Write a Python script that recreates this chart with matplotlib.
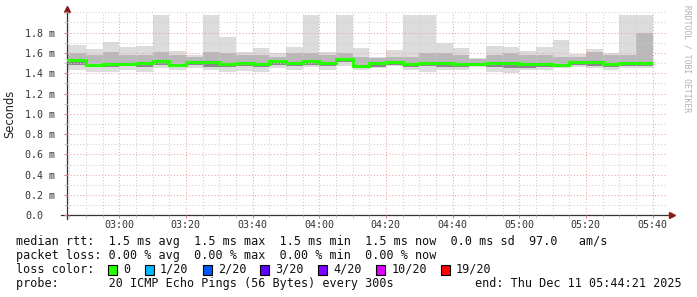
import numpy as np
import matplotlib
matplotlib.use("Agg")
import matplotlib.pyplot as plt
import matplotlib.dates as mdates
from matplotlib.patches import Rectangle
from matplotlib.ticker import MultipleLocator, FixedLocator
from datetime import datetime, timedelta

# smokeping data: one slot per 5 minutes, 02:40 .. 05:40 (values in ms)
slot_start = datetime(2025, 12, 11, 2, 40)
view_start = datetime(2025, 12, 11, 2, 44, 21)
view_end = datetime(2025, 12, 11, 5, 44, 21)

rtt_max = [1.678, 1.678, 1.635, 1.707, 1.658, 1.668, 1.970, 1.619, 1.582, 1.970,
           1.760, 1.606, 1.651, 1.599, 1.661, 1.970, 1.609, 1.970, 1.648, 1.563,
           1.628, 1.970, 1.970, 1.702, 1.651, 1.547, 1.668, 1.661, 1.619, 1.661,
           1.727, 1.589, 1.638, 1.599, 1.970, 1.970]
rtt_hi = [1.596, 1.596, 1.579, 1.606, 1.579, 1.579, 1.612, 1.579, 1.563, 1.609,
          1.602, 1.579, 1.579, 1.560, 1.596, 1.602, 1.579, 1.596, 1.560, 1.547,
          1.563, 1.563, 1.596, 1.596, 1.579, 1.540, 1.579, 1.596, 1.579, 1.579,
          1.563, 1.560, 1.609, 1.579, 1.579, 1.792]
rtt_med = [1.530, 1.530, 1.485, 1.487, 1.494, 1.503, 1.523, 1.478, 1.510, 1.507,
           1.494, 1.505, 1.494, 1.520, 1.502, 1.520, 1.503, 1.540, 1.474, 1.496,
           1.510, 1.491, 1.502, 1.498, 1.491, 1.491, 1.505, 1.500, 1.491, 1.491,
           1.478, 1.507, 1.507, 1.491, 1.500, 1.500]
rtt_lo = [1.481, 1.481, 1.464, 1.464, 1.471, 1.464, 1.481, 1.464, 1.481, 1.464,
          1.464, 1.471, 1.464, 1.484, 1.471, 1.484, 1.471, 1.510, 1.454, 1.464,
          1.484, 1.464, 1.471, 1.464, 1.464, 1.474, 1.464, 1.451, 1.454, 1.464,
          1.466, 1.484, 1.474, 1.464, 1.471, 1.474]
rtt_min = [1.431, 1.431, 1.409, 1.415, 1.431, 1.415, 1.448, 1.431, 1.454, 1.431,
           1.415, 1.422, 1.415, 1.448, 1.431, 1.464, 1.431, 1.471, 1.431, 1.451,
           1.471, 1.431, 1.415, 1.431, 1.431, 1.466, 1.415, 1.402, 1.431, 1.431,
           1.448, 1.464, 1.448, 1.431, 1.448, 1.448]

y_ticks = [0.0, 0.2, 0.4, 0.6, 0.8, 1.0, 1.2, 1.4, 1.6, 1.8]
y_labels = ["0.0"] + ["%.1f m" % v for v in y_ticks[1:]]

legend_rows = [
    "median rtt:  1.5 ms avg  1.5 ms max  1.5 ms min  1.5 ms now  0.0 ms sd  97.0   am/s",
    "packet loss: 0.00 % avg  0.00 % max  0.00 % min  0.00 % now",
    "loss color:",
    "probe:       20 ICMP Echo Pings (56 Bytes) every 300s",
]
loss_labels = ["0", "1/20", "2/20", "3/20", "4/20", "10/20", "19/20"]
loss_colors = ["#26ff00", "#00b8ff", "#0059ff", "#5e00ff", "#7e00ff", "#dd00ff", "#ff0000"]
end_label = "end: Thu Dec 11 05:44:21 2025"

W, H = 697, 297
MONO = "DejaVu Sans Mono"


def fx(x):
    return x / W


def fy(y):
    return 1 - y / H


fig = plt.figure(figsize=(W / 100, H / 100), dpi=100, facecolor="white")
ax = fig.add_axes([fx(67), fy(215.3), 600 / W, 203 / H])
ax.set_facecolor("white")

edges = mdates.date2num([slot_start + timedelta(minutes=5 * i) for i in range(len(rtt_med) + 1)])

ax.stairs(rtt_max, edges, baseline=rtt_min, fill=True, color="#dcdcdc", lw=0, zorder=1)
ax.stairs(rtt_hi, edges, baseline=rtt_lo, fill=True, color="#b9b9b9", lw=0, zorder=1.1)
ax.stairs(rtt_med, edges, baseline=rtt_lo, fill=True, color="#8a8a8a", lw=0, zorder=1.2)
ax.stairs(rtt_med, edges, baseline=None, color="#26ff00", lw=2.2, zorder=3)

ax.set_xlim(mdates.date2num(view_start), mdates.date2num(view_end))
ax.set_ylim(0, 2.0)

ax.xaxis.set_major_locator(mdates.MinuteLocator(byminute=[0, 20, 40]))
ax.xaxis.set_minor_locator(mdates.MinuteLocator(byminute=range(0, 60, 5)))
ax.xaxis.set_major_formatter(mdates.DateFormatter("%H:%M"))
ax.yaxis.set_major_locator(FixedLocator(y_ticks))
ax.yaxis.set_minor_locator(MultipleLocator(0.1))
ax.set_yticklabels(y_labels)

dots = (0, (1, 2))
ax.grid(which="minor", color="#cfcfcf", lw=0.75, linestyle=dots)
ax.grid(which="major", color="#eda5a5", lw=0.75, linestyle=dots)
ax.set_axisbelow(False)

ax.tick_params(axis="both", which="both", labelsize=7.2, colors="#333333")
ax.tick_params(axis="y", which="major", length=2, color="#e08080", pad=28)
ax.tick_params(axis="y", which="minor", length=2, color="#bbbbbb")
ax.tick_params(axis="x", which="major", length=2, color="#e08080", pad=1.5)
ax.tick_params(axis="x", which="minor", length=2, color="#bbbbbb")
for lab in ax.get_yticklabels():
    lab.set_horizontalalignment("left")
    lab.set_family(MONO)
for lab in ax.get_xticklabels():
    lab.set_family(MONO)

for s in ax.spines.values():
    s.set_visible(False)
# axis lines with arrows, as rrdtool draws them
ax.plot([0, 0], [-0.02, 1.01], transform=ax.transAxes, color="#333333", lw=0.9, clip_on=False)
ax.plot([-0.01, 1.006], [0, 0], transform=ax.transAxes, color="#333333", lw=0.9, clip_on=False)
ax.plot([0], [1.014], transform=ax.transAxes, marker="^", ms=4.5, color="#8b1a1a", clip_on=False)
ax.plot([1.008], [0], transform=ax.transAxes, marker=">", ms=4.5, color="#8b1a1a", clip_on=False)

fig.text(fx(10), fy(113.5), "Seconds", rotation=90, ha="center", va="center",
         fontsize=8.3, family="DejaVu Sans", color="#222222")
fig.text(fx(687), fy(5), "RRDTOOL / TOBI OETIKER", rotation=270, ha="center", va="top",
         fontsize=5.8, family=MONO, color="#b0b0b0")

row_y = [241.5, 255.5, 269.5, 283.5]
for text, y in zip(legend_rows, row_y):
    fig.text(fx(16), fy(y), text, ha="left", va="center", fontsize=8.5, family=MONO, color="#111111")
fig.text(fx(682), fy(row_y[3]), end_label, ha="right", va="center", fontsize=8.5, family=MONO,
         color="#111111")

# loss colour boxes
cw = 7.1
x = 16 + 13 * cw
for lab, col in zip(loss_labels, loss_colors):
    fig.add_artist(Rectangle((fx(x), fy(row_y[2] + 5)), 9 / W, 10 / H, transform=fig.transFigure,
                             facecolor=col, edgecolor="black", lw=0.8))
    fig.text(fx(x + 2 * cw + 1), fy(row_y[2]), lab, ha="left", va="center", fontsize=8.5,
             family=MONO, color="#111111")
    x += 2 * cw + 1 + (len(lab) + 2) * cw

fig.savefig("out.png", dpi=100, facecolor="white")
